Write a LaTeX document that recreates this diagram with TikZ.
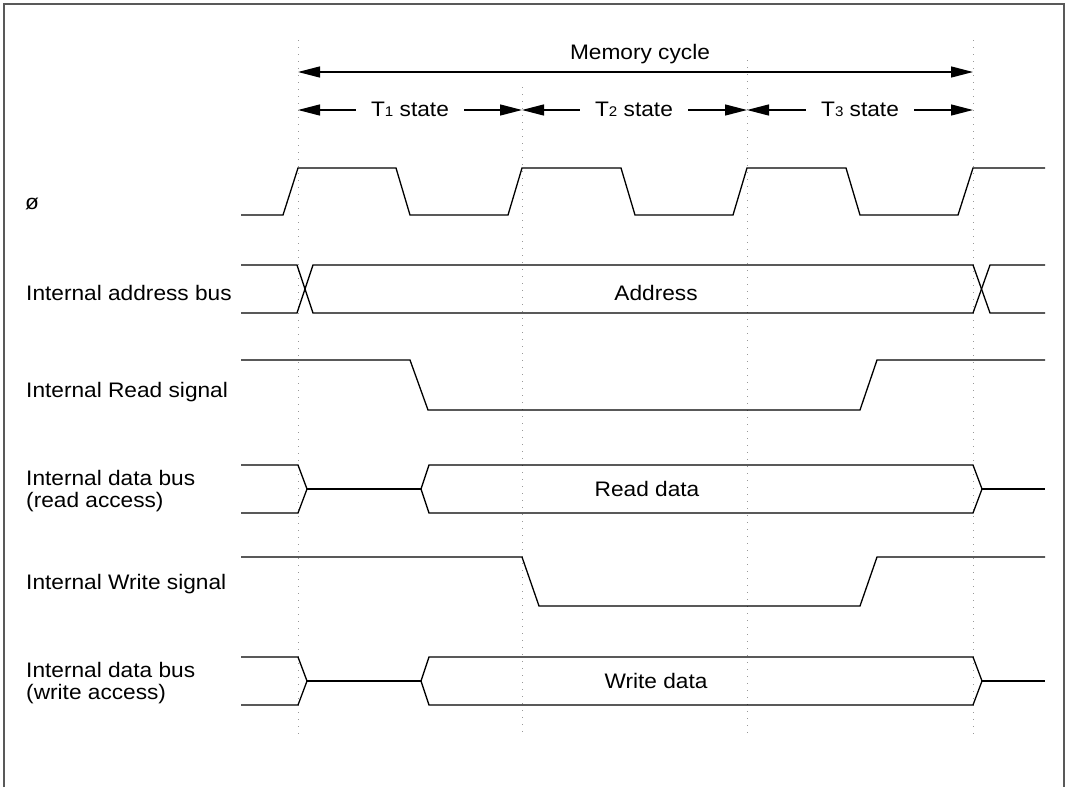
\documentclass[tikz,border=0pt]{standalone}
\usepackage{fontspec}
\setmainfont[FakeStretch=1.08]{Liberation Sans}
\usetikzlibrary{arrows.meta}
\begin{document}
\begin{tikzpicture}[x=1pt,y=-1pt,
  sig/.style={line width=1.3pt, line join=miter},
  gridline/.style={gray!80, line width=1pt, dash pattern=on 1pt off 6pt},
  lbl/.style={anchor=base west, inner sep=0pt, font=\fontsize{21}{22}\selectfont},
  clbl/.style={anchor=base, inner sep=0pt, font=\fontsize{21}{22}\selectfont},
  tlbl/.style={anchor=base, inner xsep=15pt, inner ysep=0pt, font=\fontsize{21}{22}\selectfont},
  tarr/.style={line width=1.3pt, -{Triangle[length=22pt,width=11pt]}},
  frame/.style={line width=1.5pt, black!65}]
\useasboundingbox (0,0) rectangle (1067,787);
% frame (open at bottom)
\draw[frame] (4,787) -- (4,4) -- (1064,4) -- (1064,787);
% dotted grid
\coordinate (g0t) at (298,40);  \coordinate (g0b) at (298,737);
\coordinate (g1t) at (522,87);  \coordinate (g1b) at (522,737);
\coordinate (g2t) at (747,60);  \coordinate (g2b) at (747,733);
\coordinate (g3t) at (973,40);  \coordinate (g3b) at (973,737);
\draw[gridline] (g0t) -- (g0b);
\draw[gridline] (g1t) -- (g1b);
\draw[gridline] (g2t) -- (g2b);
\draw[gridline] (g3t) -- (g3b);
% memory cycle
\coordinate (m0) at (298,72); \coordinate (m1) at (973,72);
\node[clbl] (mc) at (640,59) {Memory cycle};
\draw[line width=1.3pt, {Triangle[length=22pt,width=11pt]}-{Triangle[length=22pt,width=11pt]}] (m0) -- (m1);
% T states
\coordinate (s0) at (298,110); \coordinate (s1) at (522,110);
\coordinate (s2) at (747,110); \coordinate (s3) at (973,110);
\node[tlbl] (t1) at (410,116) {T{\fontsize{14}{14}\selectfont 1} state};
\node[tlbl] (t2) at (634,116) {T{\fontsize{14}{14}\selectfont 2} state};
\node[tlbl] (t3) at (860,116) {T{\fontsize{14}{14}\selectfont 3} state};
\draw[tarr] (t1.west |- s0) -- (s0);
\draw[tarr] (t1.east |- s0) -- (s1);
\draw[tarr] (t2.west |- s0) -- (s1);
\draw[tarr] (t2.east |- s0) -- (s2);
\draw[tarr] (t3.west |- s0) -- (s2);
\draw[tarr] (t3.east |- s0) -- (s3);
% labels
\node[lbl] (lphi) at (25,209) {ø};
\node[lbl] (ladr) at (26,300) {Internal address bus};
\node[lbl] (lrd) at (26,397) {Internal Read signal};
\node[lbl] (ldr1) at (26,485) {Internal data bus};
\node[lbl] (ldr2) at (26,507) {(read access)};
\node[lbl] (lwr) at (26,589) {Internal Write signal};
\node[lbl] (ldw1) at (26,677) {Internal data bus};
\node[lbl] (ldw2) at (26,699) {(write access)};
% phi clock
\draw[sig] (241,215) -- (283,215) -- (298,168) -- (396,168) -- (410,215) -- (508,215)
  -- (522,168) -- (621,168) -- (635,215) -- (733,215) -- (747,168) -- (846,168)
  -- (860,215) -- (958,215) -- (973,168) -- (1045,168);
% address bus
\draw[sig] (241,265) -- (297,265) -- (313,313) -- (973,313) -- (990,265) -- (1045,265);
\draw[sig] (241,313) -- (297,313) -- (313,265) -- (973,265) -- (990,313) -- (1045,313);
\node[clbl] (adr) at (656,300) {Address};
% read signal
\draw[sig] (241,360) -- (410,360) -- (428,410) -- (860,410) -- (877,360) -- (1045,360);
% data bus read
\draw[sig] (241,465) -- (298,465) -- (307,489) -- (298,513) -- (241,513);
\draw[sig] (307,489) -- (421,489);
\draw[sig] (421,489) -- (429,465) -- (973,465) -- (982,489) -- (973,513) -- (429,513) -- cycle;
\draw[sig] (982,489) -- (1045,489);
\node[clbl] (rdd) at (647,496) {Read data};
% write signal
\draw[sig] (241,557) -- (522,557) -- (539,606) -- (860,606) -- (877,557) -- (1045,557);
% data bus write
\draw[sig] (241,657) -- (298,657) -- (307,681) -- (298,705) -- (241,705);
\draw[sig] (307,681) -- (421,681);
\draw[sig] (421,681) -- (429,657) -- (973,657) -- (982,681) -- (973,705) -- (429,705) -- cycle;
\draw[sig] (982,681) -- (1045,681);
\node[clbl] (wrd) at (656,688) {Write data};
\end{tikzpicture}
\end{document}
